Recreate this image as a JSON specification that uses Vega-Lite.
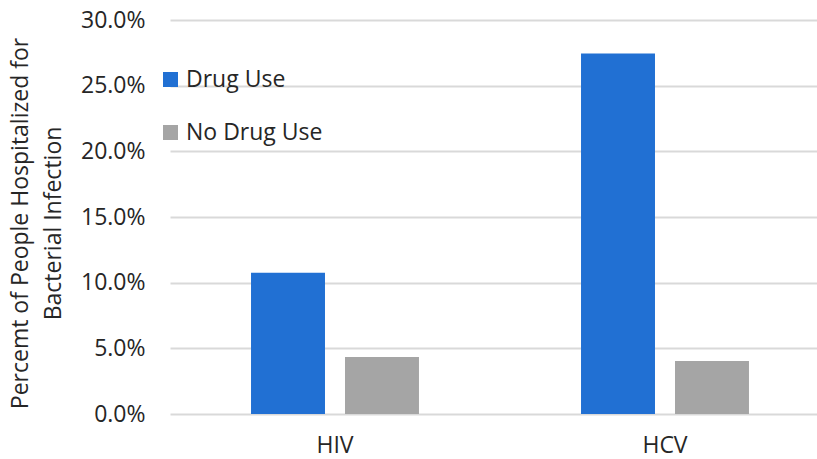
{
  "$schema": "https://vega.github.io/schema/vega-lite/v6.json",
  "autosize": {"type": "none"},
  "padding": {"left": 170, "top": 20, "right": 0, "bottom": 45},
  "width": 647,
  "height": 394,
  "background": "white",
  "config": {
    "font": "Open Sans",
    "view": {"stroke": null}
  },
  "data": {
    "values": [
      {"virus": "HIV", "group": "Drug Use", "pct": 0.1075},
      {"virus": "HIV", "group": "No Drug Use", "pct": 0.0434},
      {"virus": "HCV", "group": "Drug Use", "pct": 0.2744},
      {"virus": "HCV", "group": "No Drug Use", "pct": 0.0404}
    ]
  },
  "mark": {"type": "bar"},
  "encoding": {
    "x": {
      "field": "virus",
      "type": "nominal",
      "sort": ["HIV", "HCV"],
      "scale": {"range": [0, 660], "paddingInner": 0, "paddingOuter": 0},
      "axis": {
        "title": null,
        "labelAngle": 0,
        "labelFontSize": 23,
        "labelColor": "#262626",
        "labelPadding": 20,
        "ticks": false,
        "domain": false,
        "grid": false
      }
    },
    "xOffset": {
      "field": "group",
      "type": "nominal",
      "sort": ["Drug Use", "No Drug Use"],
      "scale": {"paddingInner": 0.213, "paddingOuter": 0.862}
    },
    "y": {
      "field": "pct",
      "type": "quantitative",
      "scale": {"domain": [0, 0.3], "nice": false},
      "axis": {
        "title": ["Percemt of People Hospitalized for", "Bacterial Infection"],
        "titleFontSize": 23,
        "titleFontWeight": "normal",
        "titleColor": "#262626",
        "titlePadding": 15,
        "titleLineHeight": 33,
        "titleY": 203,
        "format": ".1%",
        "values": [0, 0.05, 0.1, 0.15, 0.2, 0.25, 0.3],
        "labelFontSize": 23,
        "labelColor": "#262626",
        "labelPadding": 25,
        "ticks": false,
        "domain": false,
        "gridColor": "#D9D9D9",
        "gridWidth": 2
      }
    },
    "color": {
      "field": "group",
      "type": "nominal",
      "sort": ["Drug Use", "No Drug Use"],
      "scale": {"domain": ["Drug Use", "No Drug Use"], "range": ["#2170D3", "#A5A5A5"]},
      "legend": {
        "title": null,
        "orient": "none",
        "legendX": -11,
        "legendY": 48,
        "symbolType": "square",
        "symbolSize": 225,
        "symbolStrokeWidth": 0,
        "labelFontSize": 23,
        "labelColor": "#262626",
        "labelOffset": 4,
        "rowPadding": 29
      }
    }
  }
}
